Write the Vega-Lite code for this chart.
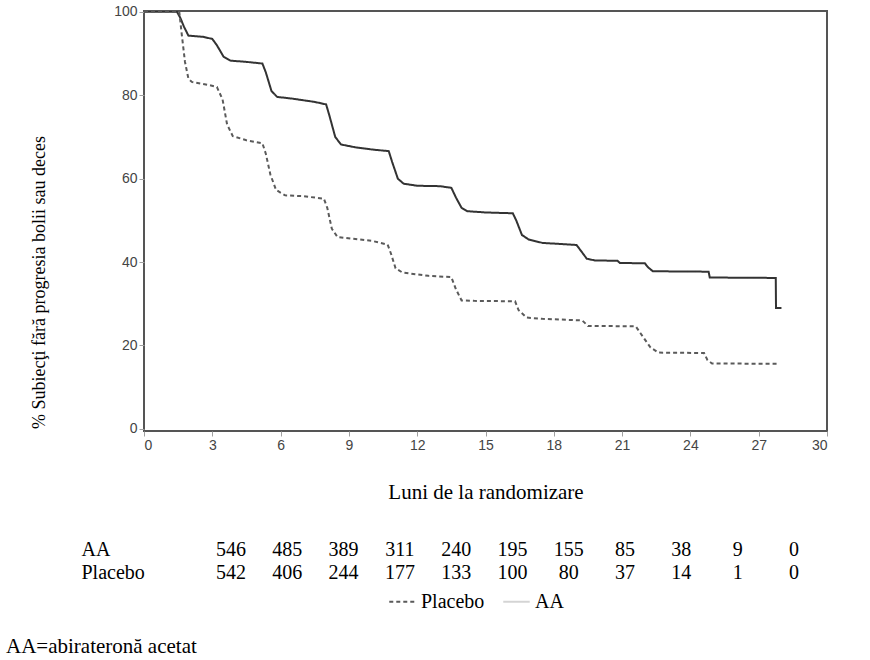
{
  "$schema": "https://vega.github.io/schema/vega-lite/v6.json",
  "padding": {"left": 6, "top": 3, "right": 5, "bottom": 5},
  "background": "white",
  "datasets": {
    "km": [
      {"grupa": "AA", "luna": 0, "procent": 100},
      {"grupa": "AA", "luna": 1.45, "procent": 100},
      {"grupa": "AA", "luna": 1.6, "procent": 98.5},
      {"grupa": "AA", "luna": 1.75, "procent": 96.5},
      {"grupa": "AA", "luna": 1.95, "procent": 94.3},
      {"grupa": "AA", "luna": 2.6, "procent": 94.0},
      {"grupa": "AA", "luna": 3.0, "procent": 93.5},
      {"grupa": "AA", "luna": 3.2, "procent": 92.0},
      {"grupa": "AA", "luna": 3.5, "procent": 89.2},
      {"grupa": "AA", "luna": 3.8, "procent": 88.3},
      {"grupa": "AA", "luna": 4.5, "procent": 88.0},
      {"grupa": "AA", "luna": 5.2, "procent": 87.6},
      {"grupa": "AA", "luna": 5.35, "procent": 85.5},
      {"grupa": "AA", "luna": 5.6, "procent": 81.0},
      {"grupa": "AA", "luna": 5.85, "procent": 79.6},
      {"grupa": "AA", "luna": 6.5, "procent": 79.2},
      {"grupa": "AA", "luna": 7.5, "procent": 78.4},
      {"grupa": "AA", "luna": 8.0, "procent": 77.8},
      {"grupa": "AA", "luna": 8.15, "procent": 75.0},
      {"grupa": "AA", "luna": 8.4, "procent": 70.0},
      {"grupa": "AA", "luna": 8.65, "procent": 68.2},
      {"grupa": "AA", "luna": 9.3, "procent": 67.5},
      {"grupa": "AA", "luna": 10.0, "procent": 67.0},
      {"grupa": "AA", "luna": 10.75, "procent": 66.6},
      {"grupa": "AA", "luna": 10.9, "procent": 64.0},
      {"grupa": "AA", "luna": 11.15, "procent": 60.0},
      {"grupa": "AA", "luna": 11.4, "procent": 58.8},
      {"grupa": "AA", "luna": 12.0, "procent": 58.3},
      {"grupa": "AA", "luna": 13.0, "procent": 58.2},
      {"grupa": "AA", "luna": 13.5, "procent": 57.8},
      {"grupa": "AA", "luna": 13.7, "procent": 55.5},
      {"grupa": "AA", "luna": 13.95, "procent": 53.0},
      {"grupa": "AA", "luna": 14.2, "procent": 52.2},
      {"grupa": "AA", "luna": 15.0, "procent": 51.9},
      {"grupa": "AA", "luna": 16.2, "procent": 51.7},
      {"grupa": "AA", "luna": 16.35, "procent": 50.0},
      {"grupa": "AA", "luna": 16.6, "procent": 46.5},
      {"grupa": "AA", "luna": 16.9, "procent": 45.4},
      {"grupa": "AA", "luna": 17.5, "procent": 44.6},
      {"grupa": "AA", "luna": 19.0, "procent": 44.1},
      {"grupa": "AA", "luna": 19.15, "procent": 43.0},
      {"grupa": "AA", "luna": 19.45, "procent": 40.8},
      {"grupa": "AA", "luna": 19.8, "procent": 40.4},
      {"grupa": "AA", "luna": 20.8, "procent": 40.3},
      {"grupa": "AA", "luna": 20.9, "procent": 39.8},
      {"grupa": "AA", "luna": 22.0, "procent": 39.7},
      {"grupa": "AA", "luna": 22.15, "procent": 38.7},
      {"grupa": "AA", "luna": 22.35, "procent": 37.8},
      {"grupa": "AA", "luna": 24.8, "procent": 37.7},
      {"grupa": "AA", "luna": 24.85, "procent": 36.3},
      {"grupa": "AA", "luna": 27.75, "procent": 36.2},
      {"grupa": "AA", "luna": 27.76, "procent": 29.0},
      {"grupa": "AA", "luna": 28.0, "procent": 29.0},
      {"grupa": "Placebo", "luna": 0, "procent": 100},
      {"grupa": "Placebo", "luna": 1.55, "procent": 100},
      {"grupa": "Placebo", "luna": 1.65, "procent": 95},
      {"grupa": "Placebo", "luna": 1.8, "procent": 88},
      {"grupa": "Placebo", "luna": 1.95, "procent": 84},
      {"grupa": "Placebo", "luna": 2.1, "procent": 83.2},
      {"grupa": "Placebo", "luna": 2.8, "procent": 82.5},
      {"grupa": "Placebo", "luna": 3.2, "procent": 82},
      {"grupa": "Placebo", "luna": 3.45, "procent": 79},
      {"grupa": "Placebo", "luna": 3.65, "procent": 73},
      {"grupa": "Placebo", "luna": 3.9, "procent": 70.2},
      {"grupa": "Placebo", "luna": 4.5, "procent": 69.2},
      {"grupa": "Placebo", "luna": 5.2, "procent": 68.5},
      {"grupa": "Placebo", "luna": 5.35, "procent": 66},
      {"grupa": "Placebo", "luna": 5.55, "procent": 61},
      {"grupa": "Placebo", "luna": 5.8, "procent": 57.3},
      {"grupa": "Placebo", "luna": 6.2, "procent": 56},
      {"grupa": "Placebo", "luna": 7.0, "procent": 55.8},
      {"grupa": "Placebo", "luna": 7.9, "procent": 55.2},
      {"grupa": "Placebo", "luna": 8.05, "procent": 53},
      {"grupa": "Placebo", "luna": 8.25, "procent": 48},
      {"grupa": "Placebo", "luna": 8.5, "procent": 46},
      {"grupa": "Placebo", "luna": 9.2, "procent": 45.6},
      {"grupa": "Placebo", "luna": 10.0, "procent": 45.1},
      {"grupa": "Placebo", "luna": 10.7, "procent": 44.2},
      {"grupa": "Placebo", "luna": 10.85, "procent": 42},
      {"grupa": "Placebo", "luna": 11.05, "procent": 38.5},
      {"grupa": "Placebo", "luna": 11.35, "procent": 37.5},
      {"grupa": "Placebo", "luna": 12.5, "procent": 36.7},
      {"grupa": "Placebo", "luna": 13.5, "procent": 36.4},
      {"grupa": "Placebo", "luna": 13.7, "procent": 33.5},
      {"grupa": "Placebo", "luna": 13.95, "procent": 30.8},
      {"grupa": "Placebo", "luna": 14.5, "procent": 30.7},
      {"grupa": "Placebo", "luna": 16.3, "procent": 30.6},
      {"grupa": "Placebo", "luna": 16.45, "procent": 28.5},
      {"grupa": "Placebo", "luna": 16.8, "procent": 26.7},
      {"grupa": "Placebo", "luna": 17.5, "procent": 26.4},
      {"grupa": "Placebo", "luna": 19.25, "procent": 26.0},
      {"grupa": "Placebo", "luna": 19.5, "procent": 24.7},
      {"grupa": "Placebo", "luna": 21.6, "procent": 24.6},
      {"grupa": "Placebo", "luna": 21.8, "procent": 23},
      {"grupa": "Placebo", "luna": 22.25, "procent": 19.5},
      {"grupa": "Placebo", "luna": 22.6, "procent": 18.3},
      {"grupa": "Placebo", "luna": 24.6, "procent": 18.2},
      {"grupa": "Placebo", "luna": 24.75, "procent": 16.5},
      {"grupa": "Placebo", "luna": 24.95, "procent": 15.7},
      {"grupa": "Placebo", "luna": 27.8, "procent": 15.6}
    ],
    "risc": [
      {"grupa": "AA", "luna": 0, "n": 546},
      {"grupa": "AA", "luna": 3, "n": 485},
      {"grupa": "AA", "luna": 6, "n": 389},
      {"grupa": "AA", "luna": 9, "n": 311},
      {"grupa": "AA", "luna": 12, "n": 240},
      {"grupa": "AA", "luna": 15, "n": 195},
      {"grupa": "AA", "luna": 18, "n": 155},
      {"grupa": "AA", "luna": 21, "n": 85},
      {"grupa": "AA", "luna": 24, "n": 38},
      {"grupa": "AA", "luna": 27, "n": 9},
      {"grupa": "AA", "luna": 30, "n": 0},
      {"grupa": "Placebo", "luna": 0, "n": 542},
      {"grupa": "Placebo", "luna": 3, "n": 406},
      {"grupa": "Placebo", "luna": 6, "n": 244},
      {"grupa": "Placebo", "luna": 9, "n": 177},
      {"grupa": "Placebo", "luna": 12, "n": 133},
      {"grupa": "Placebo", "luna": 15, "n": 100},
      {"grupa": "Placebo", "luna": 18, "n": 80},
      {"grupa": "Placebo", "luna": 21, "n": 37},
      {"grupa": "Placebo", "luna": 24, "n": 14},
      {"grupa": "Placebo", "luna": 27, "n": 1},
      {"grupa": "Placebo", "luna": 30, "n": 0}
    ]
  },
  "title": {
    "text": "AA=abirateronă acetat",
    "orient": "bottom",
    "anchor": "start",
    "frame": "bounds",
    "font": "'Liberation Serif', 'Times New Roman', serif",
    "fontSize": 21,
    "fontWeight": "normal",
    "color": "black",
    "dx": -23,
    "offset": 24
  },
  "spacing": 35,
  "vconcat": [
    {
      "width": 683,
      "height": 420,
      "view": {"stroke": "#555", "strokeWidth": 2},
      "data": {"name": "km"},
      "mark": {"type": "line", "strokeWidth": 2, "interpolate": "linear", "clip": true},
      "encoding": {
        "x": {
          "field": "luna",
          "type": "quantitative",
          "scale": {"domain": [0, 30], "nice": false, "zero": false},
          "axis": {
            "values": [0, 3, 6, 9, 12, 15, 18, 21, 24, 27, 30],
            "title": "Luni de la randomizare",
            "titleFontSize": 21,
            "titlePadding": 29
          }
        },
        "y": {
          "field": "procent",
          "type": "quantitative",
          "scale": {"domain": [-0.5, 100.2], "nice": false, "zero": false},
          "axis": {
            "values": [0, 20, 40, 60, 80, 100],
            "title": "% Subiecţi fără progresia bolii  sau deces",
            "titleAngle": -90,
            "titleX": -105,
            "titleY": 271,
            "titleAlign": "center",
            "titleBaseline": "middle",
            "titleFontSize": 18
          }
        },
        "color": {
          "condition": {"test": "datum.grupa === 'AA'", "value": "#333333"},
          "field": "grupa",
          "type": "nominal",
          "scale": {"domain": ["Placebo", "AA"], "range": ["#5a5a5a", "#d4d4d4"]},
          "legend": {
            "title": null,
            "orient": "none",
            "direction": "horizontal",
            "legendX": 244,
            "legendY": 576,
            "symbolType": "stroke",
            "symbolSize": 700,
            "symbolStrokeWidth": 2,
            "labelFont": "'Liberation Serif', 'Times New Roman', serif",
            "labelFontSize": 20,
            "labelColor": "black",
            "columnPadding": 14,
            "labelOffset": 4
          }
        },
        "strokeDash": {
          "field": "grupa",
          "type": "nominal",
          "scale": {"domain": ["Placebo", "AA"], "range": [[4, 3], [1, 0]]},
          "legend": {
            "title": null,
            "orient": "none",
            "direction": "horizontal",
            "legendX": 244,
            "legendY": 576,
            "symbolType": "stroke",
            "symbolSize": 700,
            "symbolStrokeWidth": 2,
            "labelFont": "'Liberation Serif', 'Times New Roman', serif",
            "labelFontSize": 20,
            "labelColor": "black",
            "columnPadding": 14,
            "labelOffset": 4
          }
        }
      }
    },
    {
      "width": 683,
      "height": 46,
      "view": {"stroke": null},
      "data": {"name": "risc"},
      "mark": {"type": "text", "font": "'Liberation Serif', 'Times New Roman', serif", "fontSize": 20, "color": "black", "align": "center", "baseline": "middle"},
      "encoding": {
        "x": {
          "field": "luna",
          "type": "quantitative",
          "scale": {"domain": [-4.635, 31.76], "nice": false, "zero": false},
          "axis": null
        },
        "y": {
          "field": "grupa",
          "type": "nominal",
          "sort": ["AA", "Placebo"],
          "scale": {"paddingInner": 0, "paddingOuter": 0},
          "axis": {
            "title": null,
            "domain": false,
            "ticks": false,
            "labelAlign": "left",
            "labelPadding": 63,
            "labelFont": "'Liberation Serif', 'Times New Roman', serif",
            "labelFontSize": 20,
            "labelColor": "black"
          }
        },
        "text": {"field": "n", "type": "quantitative"}
      }
    }
  ],
  "config": {
    "axis": {
      "grid": false,
      "domain": false,
      "tickColor": "#a0a0a0",
      "tickSize": 5,
      "labelFont": "Liberation Sans",
      "labelFontSize": 14,
      "labelColor": "#444444",
      "labelPadding": 2,
      "titleFont": "'Liberation Serif', 'Times New Roman', serif",
      "titleFontSize": 20,
      "titleFontWeight": "normal",
      "titleColor": "black"
    }
  }
}
